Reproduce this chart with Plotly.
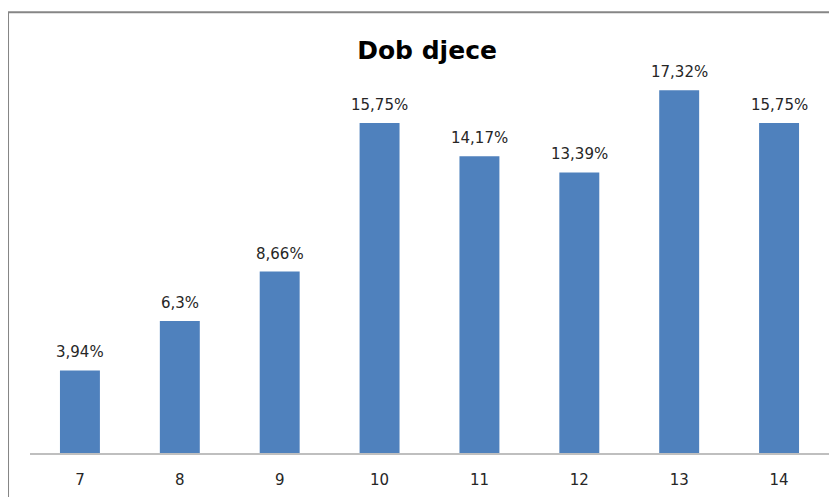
import plotly.graph_objects as go

categories = ["7", "8", "9", "10", "11", "12", "13", "14"]
values = [3.94, 6.3, 8.66, 15.75, 14.17, 13.39, 17.32, 15.75]
labels = ["3,94%", "6,3%", "8,66%", "15,75%", "14,17%", "13,39%", "17,32%", "15,75%"]
title = "Dob djece"

fig = go.Figure()
fig.add_trace(go.Bar(
    x=categories, y=values,
    marker=dict(color="#4F81BD", line=dict(width=0)),
    hoverinfo="skip",
))

# on a category axis, annotation x is the category's position index
for i, (v, t) in enumerate(zip(values, labels)):
    fig.add_annotation(x=i, y=v, text=t, showarrow=False, yanchor="bottom",
                       yshift=7, font=dict(family="DejaVu Sans", size=15, color="#262626"))

fig.update_layout(
    width=829, height=489,
    margin=dict(l=22, r=8, t=26, b=38),
    paper_bgcolor="white", plot_bgcolor="white",
    showlegend=False,
    bargap=0.6,
    title=dict(text="<b>" + title + "</b>", x=0.5055, xanchor="center", y=1 - 42.0 / 489,
               yanchor="middle", yref="container",
               font=dict(family="DejaVu Sans", size=25, color="black")),
    xaxis=dict(type="category", range=[-0.5, len(categories) - 0.5],
               showgrid=False, showline=True, linecolor="#BFBFBF", linewidth=1.5,
               ticks="", tickfont=dict(family="DejaVu Sans", size=15, color="#262626"),
               ticklabelstandoff=12, zeroline=False),
    yaxis=dict(range=[0, 20], visible=False, showgrid=False, zeroline=False),
    shapes=[
        dict(type="line", xref="paper", yref="paper", x0=-0.0275, x1=1.02, y0=1.0518, y1=1.0518,
             line=dict(color="#868686", width=2)),
        dict(type="line", xref="paper", yref="paper", x0=-0.0275, x1=-0.0275, y0=1.0518, y1=-0.2,
             line=dict(color="#868686", width=2)),
    ],
)

fig.write_html("out.html")
